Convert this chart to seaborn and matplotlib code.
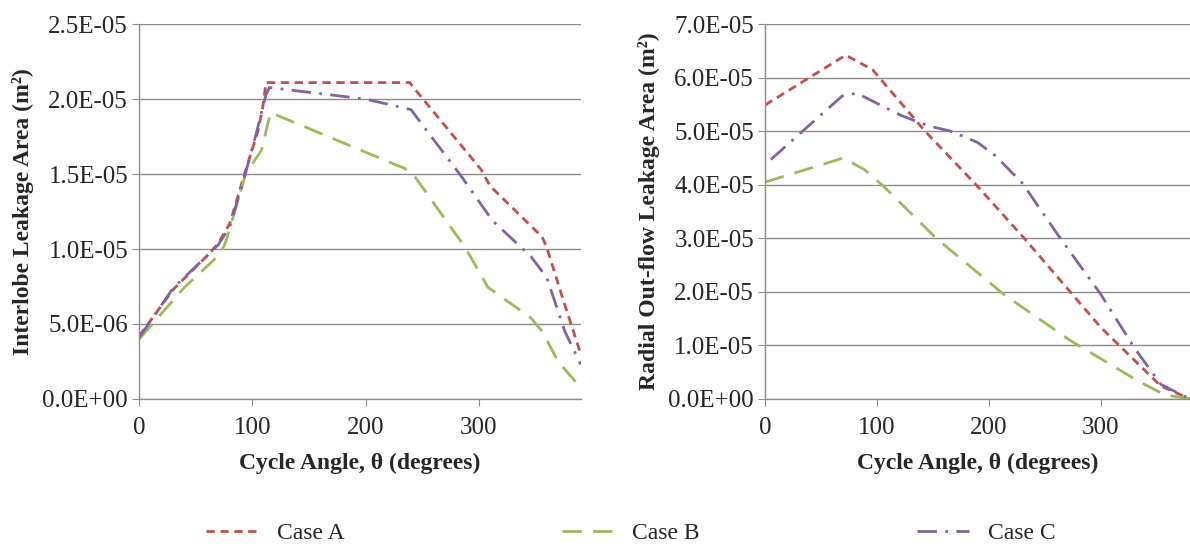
import matplotlib
matplotlib.use("Agg")
import matplotlib.pyplot as plt
import seaborn as sns
from matplotlib.ticker import FuncFormatter, MultipleLocator

# Interlobe leakage area (left panel)
il_a_deg = [0, 30, 62, 70, 80, 93, 105, 109, 112, 239, 242, 302, 310, 356, 360, 375, 390]
il_a_val = [4.2e-6, 7.3e-6, 9.7e-6, 1.04e-5, 1.17e-5, 1.5e-5, 1.79e-5, 1.94e-5, 2.11e-5, 2.11e-5,
            2.08e-5, 1.53e-5, 1.42e-5, 1.08e-5, 1.01e-5, 6.5e-6, 3.0e-6]
il_b_deg = [0, 40, 72, 77, 94, 108, 116, 240, 288, 308, 346, 356, 370, 390]
il_b_val = [4.0e-6, 7.45e-6, 9.7e-6, 1.06e-5, 1.5e-5, 1.66e-5, 1.91e-5, 1.52e-5, 1.01e-5, 7.45e-6,
            5.4e-6, 4.5e-6, 2.5e-6, 7.5e-7]
il_c_deg = [0, 30, 62, 70, 80, 93, 103, 112, 115, 200, 240, 285, 312, 346, 360, 376, 390]
il_c_val = [4.1e-6, 7.4e-6, 9.7e-6, 1.03e-5, 1.15e-5, 1.48e-5, 1.76e-5, 2.03e-5, 2.077e-5, 2.0e-5,
            1.93e-5, 1.48e-5, 1.19e-5, 9.5e-6, 8.1e-6, 4.5e-6, 2.3e-6]

# Radial out-flow leakage area (right panel)
ro_a_deg = [0, 72, 96, 143, 190, 233, 300, 354, 380]
ro_a_val = [5.49e-5, 6.42e-5, 6.15e-5, 5.0e-5, 3.97e-5, 2.97e-5, 1.34e-5, 2.4e-6, 0.0]
ro_b_deg = [0, 70, 89, 106, 153, 213, 273, 334, 357, 380]
ro_b_val = [4.05e-5, 4.5e-5, 4.28e-5, 3.97e-5, 3.0e-5, 1.96e-5, 1.09e-5, 3.3e-6, 8e-7, 0.0]
ro_c_deg = [5, 69, 82, 122, 146, 166, 190, 206, 230, 263, 300, 330, 354, 380]
ro_c_val = [4.47e-5, 5.66e-5, 5.71e-5, 5.29e-5, 5.1e-5, 5.0e-5, 4.79e-5, 4.54e-5, 4.03e-5, 3.03e-5,
            1.96e-5, 9.6e-6, 2.7e-6, 0.0]

cases = ["Case A", "Case B", "Case C"]
colors = ["#C0504D", "#9BBB59", "#8064A2"]
styles = [(0, (3, 2)), (0, (7, 4)), (0, (7, 3, 1, 3))]

sns.set_style("white")
plt.rcParams["font.family"] = ["Liberation Serif", "DejaVu Serif"]

fig = plt.figure(figsize=(11.9, 5.48), dpi=100)
ax1 = fig.add_axes([0.117, 0.272, 0.371, 0.684])
ax2 = fig.add_axes([0.643, 0.272, 0.357, 0.684])

left = [(il_a_deg, il_a_val), (il_b_deg, il_b_val), (il_c_deg, il_c_val)]
right = [(ro_a_deg, ro_a_val), (ro_b_deg, ro_b_val), (ro_c_deg, ro_c_val)]

for (x, y), name, c, ls in zip(left, cases, colors, styles):
    sns.lineplot(x=x, y=y, ax=ax1, color=c, linestyle=ls, linewidth=2, label=name, legend=False)
for (x, y), name, c, ls in zip(right, cases, colors, styles):
    sns.lineplot(x=x, y=y, ax=ax2, color=c, linestyle=ls, linewidth=2, legend=False)

sci = FuncFormatter(lambda v, p: f"{v:.1E}")

for ax, ymax, ystep, xmax, ylab in [
    (ax1, 2.5e-5, 5e-6, 390, "Interlobe Leakage Area (m²)"),
    (ax2, 7e-5, 1e-5, 380, "Radial Out-flow Leakage Area (m²)"),
]:
    ax.set_xlim(0, xmax)
    ax.set_ylim(0, ymax)
    ax.yaxis.set_major_locator(MultipleLocator(ystep))
    ax.yaxis.set_major_formatter(sci)
    ax.set_xticks([0, 100, 200, 300])
    ax.grid(axis="y", color="#8c8c8c", linewidth=1)
    ax.set_axisbelow(True)
    for s in ["top", "right"]:
        ax.spines[s].set_visible(False)
    for s in ["left", "bottom"]:
        ax.spines[s].set_color("#8c8c8c")
        ax.spines[s].set_linewidth(1)
    ax.tick_params(axis="both", which="major", labelsize=18, direction="out",
                   length=5, color="#8c8c8c", left=True, bottom=True)
    ax.tick_params(axis="x", pad=8)
    ax.tick_params(axis="y", pad=3)
    ax.set_xlabel("Cycle Angle, θ (degrees)", fontsize=17, fontweight="bold", labelpad=10)
    ax.set_ylabel(ylab, fontsize=17, fontweight="bold", labelpad=6)

handles, labels = ax1.get_legend_handles_labels()
fig.legend(handles, labels, loc="lower center", bbox_to_anchor=(0.53, -0.032), ncol=3,
           frameon=False, fontsize=17, handlelength=2.2, columnspacing=9.2, handletextpad=0.8)

fig.savefig("out.png", dpi=100)
